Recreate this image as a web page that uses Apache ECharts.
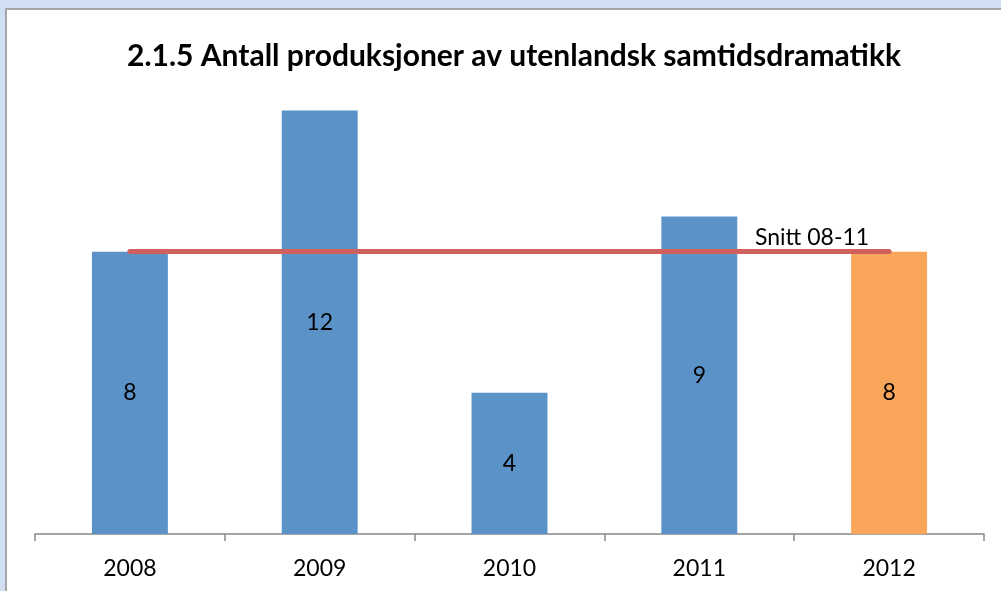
<!DOCTYPE html>
<html>
<head>
<meta charset="utf-8">
<script src="https://cdn.jsdelivr.net/npm/echarts@6/dist/echarts.min.js"></script>
<style>
  html, body { margin: 0; padding: 0; background: #d0e0f2; }
</style>
</head>
<body>
<div id="chart" style="width:1001px;height:591px"></div>
<script>
// data
const years = ['2008', '2009', '2010', '2011', '2012'];
const antall = [8, 12, 4, 9, 8];
const snitt = [8];          // snitt 08-11 line value
const snittLabel = 'Snitt 08-11';

const blue = '#5b93c8';
const orange = '#f9a65a';

let chartView = echarts.init(document.getElementById('chart'));
chartView.setOption({
    backgroundColor: '#d0e0f2',
    animation: false,
    textStyle: { fontFamily: 'Lato' },
    graphic: [
        {
            type: 'rect',
            z: -10,
            shape: { x: 6, y: 9, width: 1010, height: 600 },
            style: { fill: '#fff', stroke: '#a6a6a6', lineWidth: 2 }
        }
    ],
    title: {
        text: '2.1.5 Antall produksjoner av utenlandsk samtidsdramatikk',
        left: 509,
        textAlign: 'center',
        top: 36,
        textStyle: { fontSize: 30, fontWeight: 'bold', color: '#000', fontFamily: 'Lato' }
    },
    grid: {
        left: 35,
        right: 17,
        top: 40,
        bottom: 57,
        containLabel: false
    },
    xAxis: {
        type: 'category',
        data: years,
        axisLine: { lineStyle: { color: '#888', width: 1.5 } },
        axisTick: { show: true, length: 7, lineStyle: { color: '#888', width: 1.5 } },
        axisLabel: { color: '#000', fontSize: 23, margin: 23 }
    },
    yAxis: {
        type: 'value',
        min: 0,
        max: 14,
        show: false,
        splitLine: { show: false }
    },
    series: [
        {
            type: 'bar',
            barWidth: '40%',
            data: antall.map((v, i) => ({
                value: v,
                itemStyle: { color: i === 4 ? orange : blue }
            })),
            label: {
                show: true,
                position: 'inside',
                color: '#000',
                fontSize: 23
            },
            markLine: {
                silent: true,
                symbol: 'none',
                lineStyle: { color: '#d0605e', width: 5, type: 'solid', cap: 'round' },
                label: {
                    show: true,
                    position: 'insideEndTop',
                    formatter: snittLabel,
                    color: '#000',
                    fontSize: 23,
                    distance: [20, 3]
                },
                data: [[
                    { coord: [0, snitt[0]] },
                    { coord: [4, snitt[0]] }
                ]]
            }
        }
    ]
});
window.addEventListener('resize', function () {
    chartView.resize();
});
</script>
</body>
</html>
